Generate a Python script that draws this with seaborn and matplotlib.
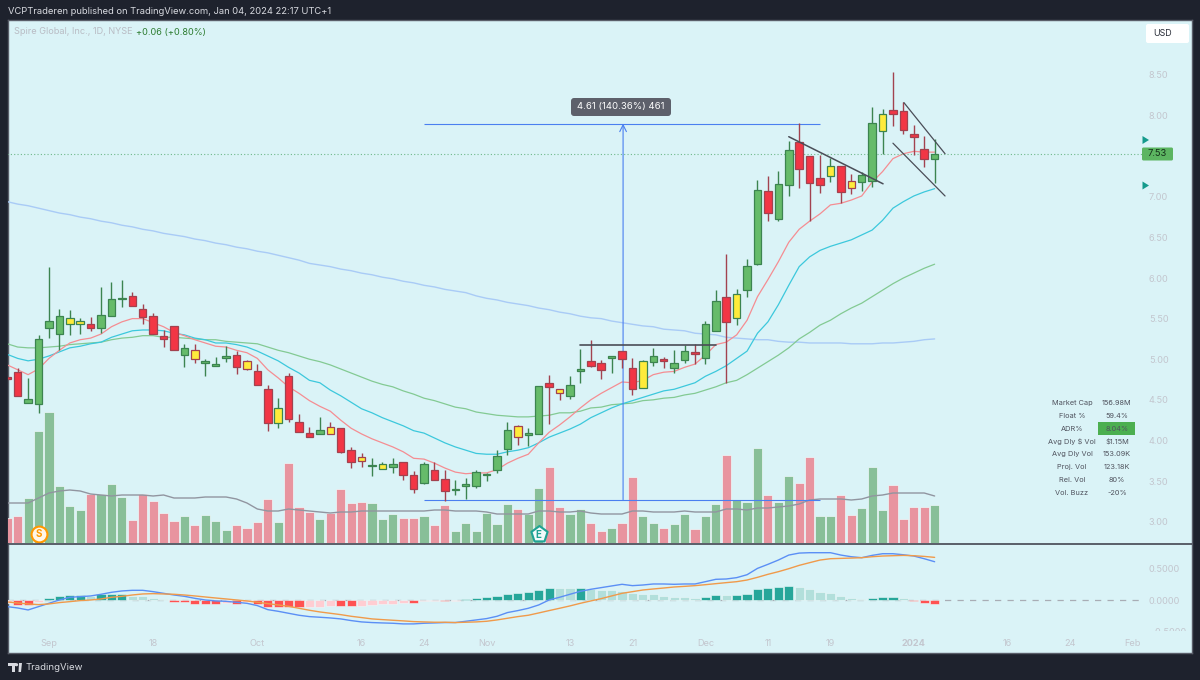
import matplotlib
matplotlib.use("Agg")
import matplotlib.pyplot as plt
from matplotlib.patches import FancyBboxPatch, Polygon, Circle, Rectangle
import numpy as np
import pandas as pd
import seaborn as sns

# OHLC per trading day
opens = [4.78,4.84,4.46,4.45,5.38,5.31,5.43,5.43,5.43,5.38,
         5.53,5.74,5.78,5.62,5.53,5.29,5.41,5.05,5.11,4.95,
         4.92,5.01,5.05,4.98,4.85,4.63,4.21,4.79,4.23,4.09,
         4.08,4.17,4.15,3.88,3.80,3.68,3.65,3.67,3.73,3.57,
         3.48,3.64,3.52,3.39,3.44,3.44,3.57,3.64,3.89,4.18,
         4.07,4.08,4.71,4.63,4.55,4.85,4.98,4.95,5.01,5.10,
         4.89,4.65,4.97,5.00,4.89,4.99,5.09,5.01,5.35,5.77,
         5.51,5.85,6.17,7.07,6.73,7.15,7.67,7.50,7.23,7.26,
         7.38,7.19,7.18,7.19,7.81,8.07,8.06,7.77,7.59,7.47]
highs = [4.78,4.89,4.77,5.30,6.14,5.62,5.61,5.51,5.52,5.89,
         5.95,5.98,5.83,5.68,5.57,5.36,5.41,5.19,5.19,5.00,
         5.03,5.16,5.10,4.99,4.94,4.68,4.52,4.83,4.33,4.17,
         4.29,4.23,4.15,3.92,3.84,3.78,3.73,3.78,3.73,3.62,
         3.73,3.73,3.64,3.51,3.54,3.64,3.60,3.88,4.23,4.19,
         4.15,4.67,4.81,4.63,4.79,5.13,5.24,4.99,5.04,5.10,
         5.01,4.99,5.14,5.03,5.11,5.18,5.19,5.47,5.85,6.30,
         5.86,6.23,7.21,7.26,7.32,7.69,7.91,7.50,7.51,7.48,
         7.38,7.28,7.31,8.11,8.08,8.54,8.17,7.88,7.75,7.71]
lows = [4.76,4.55,4.46,4.34,5.26,5.11,5.30,5.31,5.35,5.32,
        5.53,5.64,5.66,5.43,5.31,5.15,5.11,4.90,4.95,4.79,
        4.92,4.97,4.82,4.87,4.68,4.12,4.15,4.23,4.10,4.04,
        4.08,4.08,3.84,3.66,3.67,3.56,3.65,3.60,3.51,3.35,
        3.46,3.51,3.25,3.33,3.28,3.41,3.50,3.60,3.82,3.94,
        3.93,4.08,4.20,4.50,4.51,4.71,4.90,4.76,4.83,4.89,
        4.56,4.65,4.92,4.89,4.83,4.95,4.94,4.94,5.35,4.71,
        5.42,5.77,6.16,6.70,6.70,7.01,7.11,6.70,7.05,7.18,
        6.92,7.03,7.07,7.12,7.53,7.87,7.77,7.51,7.37,7.17]
closes = [4.76,4.55,4.51,5.25,5.47,5.53,5.51,5.47,5.38,5.54,
          5.74,5.75,5.66,5.52,5.31,5.25,5.11,5.14,5.00,4.98,
          4.94,5.04,4.90,4.88,4.68,4.21,4.40,4.26,4.10,4.04,
          4.13,4.08,3.86,3.73,3.75,3.70,3.71,3.71,3.57,3.40,
          3.71,3.51,3.38,3.40,3.46,3.61,3.59,3.81,4.13,4.04,
          4.09,4.67,4.66,4.58,4.68,4.88,4.92,4.87,5.04,5.00,
          4.63,4.98,5.04,4.98,4.95,5.10,5.06,5.43,5.72,5.46,
          5.80,6.15,7.08,6.80,7.16,7.58,7.34,7.17,7.15,7.38,
          7.06,7.11,7.27,7.91,8.02,8.02,7.82,7.74,7.47,7.53]
# days painted yellow on the chart
yellow_days = [6,7,18,23,26,31,34,36,49,53,61,70,79,81,84]

ema_fast = [4.93,4.87,4.81,4.88,5.01,5.11,5.20,5.24,5.26,5.31,
            5.40,5.46,5.50,5.50,5.45,5.40,5.33,5.29,5.24,5.20,
            5.16,5.15,5.11,5.08,5.01,4.87,4.77,4.66,4.58,4.49,
            4.42,4.36,4.25,4.15,4.08,4.02,3.97,3.92,3.86,3.78,
            3.77,3.72,3.66,3.61,3.59,3.60,3.60,3.64,3.72,3.78,
            3.83,3.97,4.10,4.19,4.29,4.40,4.50,4.58,4.65,4.72,
            4.71,4.74,4.81,4.84,4.85,4.90,4.94,5.05,5.18,5.21,
            5.30,5.48,5.77,5.98,6.20,6.44,6.60,6.70,6.79,6.90,
            6.92,6.96,7.01,7.18,7.31,7.47,7.53,7.56,7.55,7.55]
ema_mid = [5.06,5.01,4.98,5.00,5.04,5.09,5.14,5.16,5.19,5.21,
           5.27,5.31,5.35,5.36,5.36,5.35,5.32,5.30,5.26,5.24,
           5.20,5.20,5.18,5.15,5.10,5.04,4.98,4.90,4.83,4.74,
           4.71,4.62,4.55,4.47,4.39,4.34,4.28,4.23,4.18,4.12,
           4.09,4.03,3.97,3.92,3.88,3.84,3.83,3.83,3.86,3.88,
           3.91,3.97,4.04,4.09,4.14,4.20,4.28,4.34,4.40,4.45,
           4.49,4.53,4.57,4.61,4.63,4.67,4.71,4.79,4.85,4.92,
           5.01,5.10,5.32,5.46,5.67,5.91,6.14,6.26,6.34,6.39,
           6.43,6.47,6.53,6.59,6.71,6.86,6.94,7.01,7.06,7.10]
ema_slow = [5.19,5.15,5.14,5.14,5.15,5.16,5.18,5.19,5.20,5.21,
            5.24,5.26,5.27,5.29,5.29,5.27,5.27,5.26,5.25,5.24,
            5.24,5.22,5.21,5.20,5.19,5.15,5.11,5.08,5.04,5.00,
            4.97,4.93,4.88,4.83,4.78,4.73,4.69,4.66,4.61,4.57,
            4.52,4.49,4.45,4.41,4.39,4.35,4.33,4.31,4.30,4.29,
            4.29,4.30,4.31,4.34,4.34,4.36,4.40,4.41,4.44,4.45,
            4.46,4.49,4.50,4.52,4.53,4.56,4.58,4.62,4.66,4.71,
            4.74,4.81,4.89,4.97,5.05,5.14,5.25,5.33,5.42,5.48,
            5.56,5.63,5.69,5.77,5.85,5.93,6.00,6.06,6.12,6.17]
sma_long = [6.94,6.91,6.89,6.86,6.83,6.80,6.78,6.75,6.73,6.70,
            6.68,6.65,6.63,6.60,6.58,6.55,6.53,6.51,6.48,6.46,
            6.43,6.41,6.38,6.36,6.33,6.31,6.28,6.25,6.22,6.18,
            6.16,6.14,6.11,6.09,6.06,6.04,6.01,5.99,5.96,5.94,
            5.91,5.89,5.86,5.84,5.82,5.78,5.75,5.73,5.70,5.68,
            5.66,5.63,5.61,5.58,5.56,5.53,5.51,5.50,5.47,5.45,
            5.43,5.41,5.40,5.37,5.36,5.35,5.32,5.31,5.30,5.27,
            5.26,5.25,5.24,5.24,5.22,5.21,5.21,5.20,5.20,5.20,
            5.20,5.19,5.19,5.19,5.20,5.20,5.21,5.22,5.24,5.25]

# volume in thousands
volume = [75,81,135,336,393,171,111,99,147,147,
          177,138,69,147,126,90,66,81,54,84,
          66,39,54,45,63,132,63,240,108,93,
          72,90,162,120,123,120,72,87,75,75,
          81,54,114,36,60,36,90,57,117,102,
          87,165,228,108,87,102,60,36,45,60,
          198,81,60,45,57,87,42,81,117,264,
          129,123,285,144,123,201,180,258,81,81,
          144,84,105,228,99,174,72,108,108,114]
volume_ma = [120,120,120,135,150,156,159,156,147,144,
             141,144,144,144,141,144,135,135,135,138,
             138,138,132,120,102,96,96,102,99,96,
             93,90,93,93,96,96,96,96,96,96,
             96,99,99,96,96,96,93,87,87,87,
             87,96,96,93,93,96,90,87,87,87,
             96,96,93,93,93,96,93,93,93,102,
             102,99,105,105,108,111,117,129,132,132,
             132,129,132,141,144,150,150,150,150,141]

macd_hist = [-.036,-.073,-.073,-.026,.031,.068,.088,.088,.068,.099,
             .104,.104,.068,.068,.031,.016,-.021,-.031,-.052,-.062,
             -.062,-.036,-.062,-.031,-.062,-.099,-.099,-.104,-.104,-.099,
             -.099,-.083,-.088,-.088,-.088,-.068,-.062,-.052,-.036,-.036,
             -.010,-.010,-.016,-.005,.021,.031,.047,.068,.104,.114,
             .130,.161,.187,.187,.187,.187,.172,.166,.161,.140,
             .114,.094,.094,.068,.052,.052,.036,.052,.083,.083,
             .083,.104,.172,.187,.208,.224,.208,.172,.135,.114,
             .068,.042,.021,.042,.057,.057,.031,-.010,-.042,-.062]
hist_pale = [0,3,8,12,13,14,15,21,23,29,30,31,34,35,36,37,38,40,41,43,
             53,54,56,57,58,59,60,61,62,63,64,65,66,69,76,77,78,79,80,81,82,86]
macd_line = [-.099,-.120,-.151,-.099,-.047,.005,.047,.057,.068,.094,
             .125,.146,.156,.156,.135,.109,.083,.062,.031,.005,
             -.010,-.016,-.031,-.047,-.083,-.146,-.172,-.203,-.234,-.255,
             -.265,-.276,-.291,-.317,-.338,-.348,-.354,-.359,-.369,-.369,
             -.359,-.354,-.348,-.348,-.328,-.307,-.286,-.250,-.192,-.161,
             -.125,-.073,.005,.047,.094,.140,.172,.198,.224,.250,
             .229,.239,.255,.255,.250,.255,.255,.291,.328,.333,
             .354,.400,.499,.562,.629,.707,.738,.744,.744,.744,
             .707,.681,.666,.702,.728,.728,.712,.692,.650,.603]
macd_signal = [-.026,-.042,-.057,-.068,-.057,-.036,-.021,-.005,.005,.021,
               .047,.062,.083,.099,.104,.099,.094,.083,.068,.052,
               .036,.021,.005,-.010,-.031,-.052,-.073,-.094,-.125,-.156,
               -.182,-.203,-.224,-.250,-.270,-.291,-.302,-.312,-.322,-.333,
               -.338,-.343,-.343,-.348,-.343,-.338,-.328,-.307,-.281,-.255,
               -.234,-.198,-.161,-.125,-.088,-.047,-.010,.026,.068,.109,
               .135,.161,.177,.192,.208,.218,.229,.244,.260,.276,
               .291,.317,.359,.406,.447,.494,.546,.588,.629,.650,
               .655,.660,.666,.681,.692,.697,.702,.697,.686,.671]

date_ticks = [4,14,24,34,40,46,54,60,67,73,79,87,96,102,108]
date_labels = ["Sep","18","Oct","16","24","Nov","13","21","Dec","11","19","2024","16","24","Feb"]
price_ticks = [3.0,3.5,4.0,4.5,5.0,5.5,6.0,6.5,7.0,8.0,8.5]
stat_names = ["Market Cap","Float %","ADR%","Avg Dly $ Vol","Avg Dly Vol","Proj. Vol","Rel. Vol","Vol. Buzz"]
stat_values = ["156.98M","59.4%","8.04%","$1.15M","153.09K","123.18K","80%","-20%"]

DARK = "#1e222d"
PANE = "#daf3f7"
MUTED = "#c3c6ce"
AXIS_FONT = 6.6

sns.set_theme(style="white")
plt.rcParams["font.family"] = ["Inter", "DejaVu Sans"]

fig = plt.figure(figsize=(12, 6.8), dpi=100, facecolor=DARK)


def pane(x0, y0, x1, y1, color="none"):
    """Axes placed by picture pixels (y measured from the top)."""
    a = fig.add_axes([x0 / 1200, 1 - y1 / 680, (x1 - x0) / 1200, (y1 - y0) / 680], facecolor=color)
    for s in a.spines.values():
        s.set_visible(False)
    return a


days = np.arange(len(closes))
XLIM = (0.07, 113.7)

df = pd.DataFrame({"day": days, "open": opens, "high": highs, "low": lows, "close": closes,
                   "volume": volume, "volume_ma": volume_ma, "hist": macd_hist,
                   "macd": macd_line, "signal": macd_signal, "fast": ema_fast,
                   "mid": ema_mid, "slow": ema_slow, "long": sma_long})
df["up"] = df["close"] >= df["open"]
df["vol_kind"] = np.where(df["up"], "up", "down")
df.loc[78, "vol_kind"] = "up"  # this one is green in the volume pane even though the candle is red
df["hist_kind"] = np.where(df["hist"] >= 0, "pos", "neg")
df.loc[hist_pale, "hist_kind"] = df.loc[hist_pale, "hist_kind"] + "_pale"

bg = pane(8, 20, 1192, 653, PANE)
bg.set_xticks([])
bg.set_yticks([])
for s in bg.spines.values():
    s.set_visible(True)
    s.set_color("#5a5e69")
    s.set_linewidth(1)

# Volume goes under the candles
ax_vol = pane(8, 20, 1192, 543)
sns.barplot(data=df, x="day", y="volume", hue="vol_kind", native_scale=True, dodge=False, width=0.88,
            palette={"up": "#88bf98", "down": "#e8949f"}, saturation=1, legend=False,
            edgecolor="#eef9fa", linewidth=0.5, ax=ax_vol)
sns.lineplot(data=df, x="day", y="volume_ma", color="#9195a0", lw=1.0, ax=ax_vol)
ax_vol.set_xlim(*XLIM)
ax_vol.set_ylim(0, 1569)
ax_vol.set_xticks([])
ax_vol.set_yticks([])
ax_vol.set_xlabel("")
ax_vol.set_ylabel("")

ax = pane(8, 20, 1192, 543)
for col, color, lw in [("long", "#a9cbf6", 1.0), ("slow", "#83ca93", 0.9),
                       ("mid", "#3cc8dc", 0.9), ("fast", "#f58d92", 0.9)]:
    sns.lineplot(data=df, x="day", y=col, color=color, lw=lw, ax=ax, zorder=1)

# Candles
for row in df.itertuples():
    line = "#3c8450" if row.up else "#a2424f"
    body = "#66bb6a" if row.up else "#f23645"
    if row.day in yellow_days:
        body = "#ffeb3b"
    ax.vlines(row.day, row.low, row.high, color=line, lw=1.0, zorder=3)
    ax.bar(row.day, abs(row.close - row.open), bottom=min(row.open, row.close), width=0.72,
           color=body, edgecolor=line, linewidth=0.9, zorder=4)

# Drawings on the chart
ax.plot([0, 109], [closes[-1], closes[-1]], color="#6fb98a", lw=0.8, ls=(0, (1, 2)), zorder=2)
ax.hlines([7.90, 3.27], 40, 78, color="#4a7ff0", lw=0.8, zorder=2)
ax.annotate("", xy=(59.1, 7.90), xytext=(59.1, 3.27), zorder=2,
            arrowprops=dict(arrowstyle="->", color="#4a7ff0", lw=0.8, shrinkA=0, shrinkB=0))
ax.plot([55, 68], [5.18, 5.18], color="#4a4d57", lw=1.2, zorder=5)
ax.plot([75, 84.05], [7.74, 7.16], color="#4a4d57", lw=1.1, zorder=5)
ax.plot([86.05, 90], [8.16, 7.53], color="#4a4d57", lw=0.9, zorder=5)
ax.plot([85, 90], [7.66, 7.01], color="#4a4d57", lw=0.9, zorder=5)

# Split and earnings markers
ax.scatter([3], [2.85], s=130, marker="o", facecolor="#fff6e8", edgecolor="#ff9800", lw=1.5, zorder=6)
ax.text(3, 2.85, "S", color="#ff9800", fontsize=7, fontweight="bold", ha="center", va="center", zorder=7)
ax.scatter([51], [2.85], s=150, marker="p", facecolor="#f2fbfa", edgecolor="#1fa394", lw=1.5, zorder=6)
ax.text(51, 2.84, "E", color="#1fa394", fontsize=7, fontweight="bold", ha="center", va="center", zorder=7)

ax.set_xlim(*XLIM)
ax.set_ylim(2.737, 9.177)
ax.set_xticks([])
ax.set_xlabel("")
ax.set_ylabel("")
ax.yaxis.tick_right()
ax.set_yticks(price_ticks)
ax.set_yticklabels([f"{p:.2f}" for p in price_ticks])
ax.tick_params(axis="y", length=0, pad=-31, labelsize=AXIS_FONT, labelcolor=MUTED)

# MACD pane
ax_macd = pane(8, 544, 1192, 631)
sns.barplot(data=df, x="day", y="hist", hue="hist_kind", native_scale=True, dodge=False, width=0.88,
            palette={"pos": "#26a69a", "pos_pale": "#b2dfdb", "neg": "#ff5252", "neg_pale": "#ffcdd2"},
            saturation=1, legend=False, edgecolor="#eef9fa", linewidth=0.4, ax=ax_macd)
ax_macd.plot([0, 109], [0, 0], color="#a9adb5", lw=0.9, ls=(0, (5, 5)), zorder=0)
sns.lineplot(data=df, x="day", y="macd", color="#5b8ff5", lw=1.0, ax=ax_macd)
sns.lineplot(data=df, x="day", y="signal", color="#f09a4a", lw=1.0, ax=ax_macd)
ax_macd.set_xlim(*XLIM)
ax_macd.set_ylim(-0.48, 0.88)
ax_macd.set_xlabel("")
ax_macd.set_ylabel("")
ax_macd.set_xticks(date_ticks)
ax_macd.set_xticklabels(date_labels)
ax_macd.tick_params(axis="x", length=0, pad=6, labelsize=AXIS_FONT, labelcolor=MUTED)
for lab in ax_macd.get_xticklabels():
    if lab.get_text() == "2024":
        lab.set_fontweight("bold")
ax_macd.yaxis.tick_right()
ax_macd.set_yticks([0.0, 0.5])
ax_macd.set_yticklabels(["0.0000", "0.5000"])
ax_macd.tick_params(axis="y", length=0, pad=-31, labelsize=AXIS_FONT, labelcolor=MUTED)
# the lowest label is cut off by the pane edge in the original too
ax_macd.text(0.9637, -0.5, "\u22120.5000", transform=ax_macd.get_yaxis_transform(), color=MUTED,
             fontsize=AXIS_FONT, va="center", ha="left", clip_on=True)

# Everything else is placed in picture pixels
top = pane(0, 0, 1200, 680)
top.set_xlim(0, 1200)
top.set_ylim(680, 0)
top.axis("off")
top.hlines(543.5, 8, 1192, color="#434651", lw=1.2)
top.text(8, 11, "VCPTraderen published on TradingView.com, Jan 04, 2024 22:17 UTC+1",
         color="#d8dae0", fontsize=6.75, va="center")
top.text(14, 32, "Spire Global, Inc., 1D, NYSE", color="#b9bcc4", fontsize=6.6, va="center")
top.text(136, 32, "+0.06 (+0.80%)", color="#2e7d32", fontsize=6.6, va="center")

top.add_patch(FancyBboxPatch((1146, 24), 43, 19, boxstyle="round,pad=0,rounding_size=2", fc="white", ec="none"))
top.text(1153, 33.5, "USD", color="#2a2e39", fontsize=6.4, va="center")
top.add_patch(FancyBboxPatch((1142, 147.5), 31, 13, boxstyle="round,pad=0,rounding_size=1.5", fc="#5cb561", ec="none"))
top.text(1157.5, 154, f"{closes[-1]:.2f}", color="#14301a", fontsize=6.7, ha="center", va="center")
top.add_patch(Polygon([(1142.5, 136), (1149, 140), (1142.5, 144)], fc="#149a8c", ec="none"))
top.add_patch(Polygon([(1142.5, 181.5), (1149, 185.5), (1142.5, 189.5)], fc="#149a8c", ec="none"))

top.add_patch(FancyBboxPatch((571, 98), 100, 18, boxstyle="round,pad=0,rounding_size=3", fc="#5d606b", ec="none"))
top.text(621, 107, "4.61 (140.36%) 461", color="white", fontsize=6.9, ha="center", va="center")

# Stats table
top.add_patch(Rectangle((1098, 422), 37, 13, fc="#4caf50", ec="none"))
for k, (name, val) in enumerate(zip(stat_names, stat_values)):
    y = 403 + k * 12.85
    top.text(1072, y, name, color="#50535e", fontsize=5.3, ha="center", va="center")
    top.text(1117, y, val, color="#50535e", fontsize=5.3, ha="center", va="center")

# TradingView mark and name in the footer
top.add_patch(Rectangle((8, 663), 7.5, 2.6, fc="#d8dae0", ec="none"))
top.add_patch(Rectangle((11.5, 663), 3.6, 9, fc="#d8dae0", ec="none"))
top.add_patch(Circle((16.5, 664.7), 1.6, fc="#d8dae0", ec="none"))
top.add_patch(Polygon([(18.5, 672), (19, 663), (22, 663), (21, 672)], fc="#d8dae0", ec="none"))
top.text(25.5, 667.5, "TradingView", color="#d8dae0", fontsize=6.9, va="center")

fig.savefig("out.png", dpi=100, facecolor=DARK)
